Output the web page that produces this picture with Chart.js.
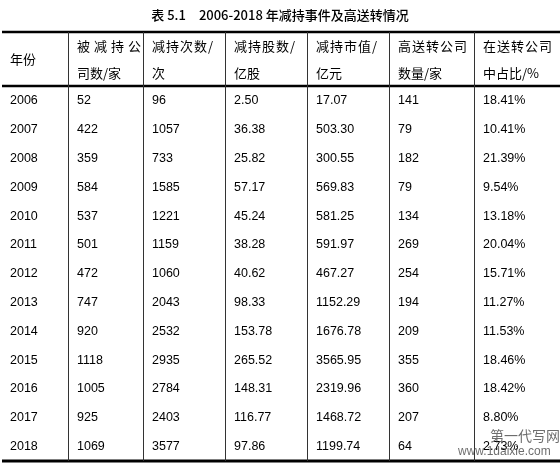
<!DOCTYPE html><html><head><meta charset="utf-8">
<script src="https://cdn.jsdelivr.net/npm/chart.js@4"></script>
<style>body{margin:0;background:#fff}canvas{display:block}</style></head><body>
<canvas id="c" width="560" height="463"></canvas>
<script>
const title = '表 5.1　2006-2018 年减持事件及高送转情况';
const headers = [['年份'],['被减持公','司数/家'],['减持次数/','次'],['减持股数/','亿股'],['减持市值/','亿元'],['高送转公司','数量/家'],['在送转公司','中占比/%']];
const years = ['2006','2007','2008','2009','2010','2011','2012','2013','2014','2015','2016','2017','2018'];
const companies = ['52','422','359','584','537','501','472','747','920','1118','1005','925','1069'];
const counts = ['96','1057','733','1585','1221','1159','1060','2043','2532','2935','2784','2403','3577'];
const shares = ['2.50','36.38','25.82','57.17','45.24','38.28','40.62','98.33','153.78','265.52','148.31','116.77','97.86'];
const marketValue = ['17.07','503.30','300.55','569.83','581.25','591.97','467.27','1152.29','1676.78','3565.95','2319.96','1468.72','1199.74'];
const highTransfer = ['141','79','182','79','134','269','254','194','209','355','360','207','64'];
const ratio = ['18.41%','10.41%','21.39%','9.54%','13.18%','20.04%','15.71%','11.27%','11.53%','18.46%','18.42%','8.80%','2.73%'];
const columns = [years, companies, counts, shares, marketValue, highTransfer, ratio];
// layout
const colEdges = [2, 68, 143, 225, 307, 389, 474, 560];
const topLine = 32, headLine = 86, rowH = 28.8;

const tablePlugin = {
  id: 'table',
  afterDraw(chart) {
    const ctx = chart.ctx, X = chart.scales.x, Y = chart.scales.y;
    ctx.save();
    ctx.fillStyle = '#000'; ctx.textBaseline = 'middle';
    ctx.font = '500 13px "Noto Sans CJK SC"'; ctx.textAlign = 'center';
    ctx.fillText(title, X.getPixelForValue(280), Y.getPixelForValue(15));
    const hline = (y, w) => { ctx.lineWidth = w; ctx.strokeStyle = '#000'; ctx.beginPath(); ctx.moveTo(X.getPixelForValue(2), Y.getPixelForValue(y)); ctx.lineTo(X.getPixelForValue(560), Y.getPixelForValue(y)); ctx.stroke(); };
    hline(topLine, 2.5); hline(headLine, 2.5); hline(461, 3);
    ctx.lineWidth = 1; ctx.strokeStyle = '#333';
    for (let i = 1; i < colEdges.length - 1; i++) {
      ctx.beginPath(); ctx.moveTo(X.getPixelForValue(colEdges[i]) + 0.5, Y.getPixelForValue(topLine)); ctx.lineTo(X.getPixelForValue(colEdges[i]) + 0.5, Y.getPixelForValue(461)); ctx.stroke();
    }
    ctx.textAlign = 'left';
    ctx.font = '13px "Noto Sans CJK SC"';
    headers.forEach((h, c) => {
      const x = X.getPixelForValue(colEdges[c] + (c ? 9 : 8));
      if (h.length === 1) ctx.fillText(h[0], x, Y.getPixelForValue(59));
      else {
        ctx.letterSpacing = h[0].length === 4 ? '4px' : '1px';
        ctx.fillText(h[0], x, Y.getPixelForValue(46));
        ctx.letterSpacing = '0px';
        ctx.fillText(h[1], x, Y.getPixelForValue(73));
      }
    });
    ctx.font = '12.5px "Liberation Sans"';
    columns.forEach((col, c) => col.forEach((v, r) => {
      ctx.fillText(v, X.getPixelForValue(colEdges[c] + (c ? 9 : 8)), Y.getPixelForValue(headLine + 15 + r * rowH));
    }));
    ctx.fillStyle = 'rgba(60,60,60,0.75)';
    ctx.font = '14px "Noto Sans CJK SC"'; ctx.fillText('第一代写网', X.getPixelForValue(490), Y.getPixelForValue(436));
    ctx.font = '12px "Liberation Sans"'; ctx.fillText('www.1daixie.com', X.getPixelForValue(458), Y.getPixelForValue(452));
    ctx.restore();
  }
};
new Chart(document.getElementById('c'), {
  type: 'scatter',
  data: { datasets: [{ data: [] }] },
  options: {
    responsive: false, animation: false,
    layout: { padding: 0 },
    plugins: { legend: { display: false }, tooltip: { enabled: false } },
    scales: {
      x: { type: 'linear', min: 0, max: 560, display: false },
      y: { type: 'linear', min: 0, max: 463, reverse: true, display: false }
    }
  },
  plugins: [tablePlugin]
});
</script></body></html>
